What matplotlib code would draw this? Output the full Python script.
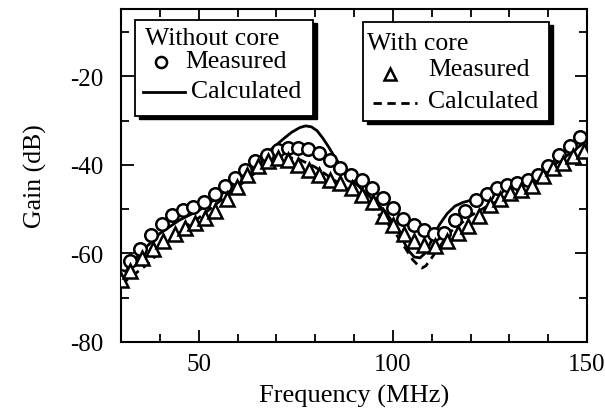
import matplotlib
matplotlib.use("Agg")
import matplotlib.pyplot as plt
from matplotlib.patches import Rectangle
from matplotlib.lines import Line2D

plt.rcParams['font.family'] = ['Liberation Serif', 'DejaVu Serif']
plt.rcParams['axes.unicode_minus'] = False

# ---- data ----
freq_wo = [30.0, 32.3, 34.9, 37.8, 40.5, 43.1, 45.9, 48.5, 51.4, 54.1, 56.8, 59.4,
           62.0, 64.6, 67.5, 70.4, 73.0, 75.5, 78.2, 81.0, 83.7, 86.4, 89.3, 92.0,
           94.6, 97.4, 100.0, 102.6, 105.4, 108.0, 110.5, 113.2, 115.9, 118.6, 121.5,
           124.2, 126.8, 129.4, 132.1, 134.8, 137.4, 140.0, 142.8, 145.5, 148.3]
gain_wo = [-65.2, -61.8, -58.9, -55.9, -53.3, -51.4, -50.2, -49.5, -48.4, -46.6, -44.8, -43.0,
           -41.1, -39.2, -37.8, -36.7, -36.3, -36.1, -36.5, -37.3, -38.8, -40.7, -42.3, -43.5,
           -45.2, -47.5, -49.8, -52.3, -53.6, -54.7, -55.5, -55.4, -52.5, -50.4, -48.0,
           -46.5, -45.2, -44.5, -44.0, -43.4, -42.3, -40.3, -37.8, -35.8, -33.6]

freq_w = [30.0, 32.4, 35.3, 38.2, 40.9, 43.8, 46.5, 49.1, 51.7, 54.3, 57.2, 59.9,
          62.5, 65.2, 67.9, 70.5, 73.1, 75.7, 78.3, 81.1, 83.8, 86.5, 89.4, 92.1,
          94.9, 97.5, 100.1, 102.8, 105.5, 108.1, 110.8, 113.9, 116.7, 119.4, 122.2,
          125.0, 127.6, 130.2, 133.0, 135.8, 138.6, 141.3, 143.9, 146.5, 149.1]
gain_w = [-66.0, -64.0, -61.1, -58.9, -57.2, -55.5, -54.3, -53.1, -51.9, -50.4, -47.6, -44.9,
          -42.3, -40.3, -39.1, -38.5, -38.9, -40.0, -41.1, -42.3, -43.4, -44.1, -45.2, -46.8,
          -48.3, -51.5, -53.6, -55.6, -57.2, -58.2, -58.4, -57.3, -55.4, -53.7, -51.5,
          -49.1, -47.6, -46.4, -45.7, -44.8, -42.6, -40.7, -39.5, -38.0, -36.8]

calc_f_wo = [30, 33, 36, 40, 45, 50, 55, 60, 65, 68, 70, 72, 74, 76, 77.5, 79, 80.5, 82,
             83.5, 85, 88, 92, 96, 98, 100, 102, 104, 105.5, 107, 108.5, 110, 112, 114,
             116, 118, 120, 125, 130, 135, 140, 145, 150]
calc_g_wo = [-65.5, -62.0, -59.0, -55.5, -52.5, -50.3, -47.3, -43.5, -39.3, -37.0, -35.5,
             -34.0, -32.6, -31.6, -31.2, -31.4, -32.3, -34.0, -36.0, -38.2, -42.0, -45.5,
             -48.8, -50.5, -53.0, -56.0, -59.3, -60.8, -61.0, -59.8, -57.0, -53.5, -51.0,
             -49.3, -48.5, -48.0, -46.5, -45.0, -43.5, -41.0, -37.8, -34.5]

calc_f_w = [30, 33, 36, 39, 42, 45, 50, 55, 60, 65, 70, 73, 76, 80, 85, 90, 95, 100,
            103, 105, 106.5, 107.5, 108.5, 110, 112, 115, 120, 125, 130, 135, 140, 145, 150]
calc_g_w = [-67.0, -65.0, -63.0, -60.5, -57.5, -55.0, -52.0, -48.5, -45.0, -41.5, -39.0,
            -38.3, -38.8, -40.5, -43.5, -46.5, -50.0, -54.5, -58.5, -61.3, -62.7, -63.3,
            -62.8, -61.0, -58.5, -55.0, -51.5, -49.0, -47.0, -45.0, -42.0, -39.5, -37.5]

x_ticks_major = [50, 100, 150]
y_ticks_major = [-80, -60, -40, -20]

# ---- figure ----
W, H = 605, 410
fig = plt.figure(figsize=(W / 100, H / 100), dpi=100)
ax = fig.add_axes([121 / W, 1 - 343 / H, (587 - 121) / W, (343 - 10) / H])

ax.plot(calc_f_wo, calc_g_wo, color='black', lw=2.0, zorder=2)
ax.plot(calc_f_w, calc_g_w, color='black', lw=2.0, ls=(0, (3, 2)), zorder=2)
ax.plot(freq_wo, gain_wo, ls='none', marker='o', ms=9, mfc='white', mec='black',
        mew=1.8, zorder=3)
ax.plot(freq_w, gain_w, ls='none', marker='^', ms=9.5, mfc='white', mec='black',
        mew=1.8, zorder=4)

ax.set_xlim(30, 150)
ax.set_ylim(-80, -4.8)
ax.set_xticks(x_ticks_major)
ax.set_xticks([40, 60, 70, 80, 90, 110, 120, 130, 140], minor=True)
ax.set_yticks(y_ticks_major)
ax.set_yticks([-70, -50, -30, -10], minor=True)
ax.tick_params(which='both', direction='in', top=True, right=True, width=1.3,
               labelsize=18)
ax.tick_params(axis='y', pad=13)
ax.tick_params(axis='x', pad=8)
ax.tick_params(which='major', length=9)
ax.tick_params(which='minor', length=6)
for s in ax.spines.values():
    s.set_linewidth(1.5)

ax.set_xlabel('Frequency (MHz)', fontsize=19, labelpad=6)
ax.set_ylabel('Gain (dB)', fontsize=18.5, labelpad=16)


def fx(px):
    return px / W


def fy(py):
    return 1 - py / H


def box(x0, y0, x1, y1):
    # shadow
    fig.add_artist(Rectangle((fx(x0 + 4), fy(y1 + 3)), fx(x1 - x0), (y1 - y0) / H,
                             transform=fig.transFigure, facecolor='black',
                             edgecolor='black', zorder=9))
    fig.add_artist(Rectangle((fx(x0), fy(y1)), fx(x1 - x0), (y1 - y0) / H,
                             transform=fig.transFigure, facecolor='white',
                             edgecolor='black', lw=1.3, zorder=10))


# legend 1
box(135, 21, 313, 117)
fig.text(fx(145), fy(39), 'Without core', fontsize=18.5, va='center', ha='left', zorder=11)
fig.add_artist(Line2D([fx(161)], [fy(63)], marker='o', ms=8, mfc='white', mec='black',
                      mew=1.8, transform=fig.transFigure, zorder=11))
fig.text(fx(185), fy(62), 'Measured', fontsize=18.5, va='center', ha='left', zorder=11)
fig.add_artist(Line2D([fx(143), fx(185)], [fy(93), fy(93)], color='black', lw=2.0,
                      transform=fig.transFigure, zorder=11))
fig.text(fx(191), fy(92), 'Calculated', fontsize=18.5, va='center', ha='left', zorder=11)

# legend 2
box(363, 23, 549, 122)
fig.text(fx(367), fy(44), 'With core', fontsize=18.5, va='center', ha='left', zorder=11)
fig.add_artist(Line2D([fx(390)], [fy(75)], marker='^', ms=8, mfc='white', mec='black',
                      mew=1.8, transform=fig.transFigure, zorder=11))
fig.text(fx(428), fy(70), 'Measured', fontsize=18.5, va='center', ha='left', zorder=11)
fig.add_artist(Line2D([fx(373), fx(417)], [fy(104), fy(104)], color='black', lw=2.0,
                      ls=(0, (3, 2)), transform=fig.transFigure, zorder=11))
fig.text(fx(428), fy(102), 'Calculated', fontsize=18.5, va='center', ha='left', zorder=11)

fig.savefig('out.png', dpi=100)
